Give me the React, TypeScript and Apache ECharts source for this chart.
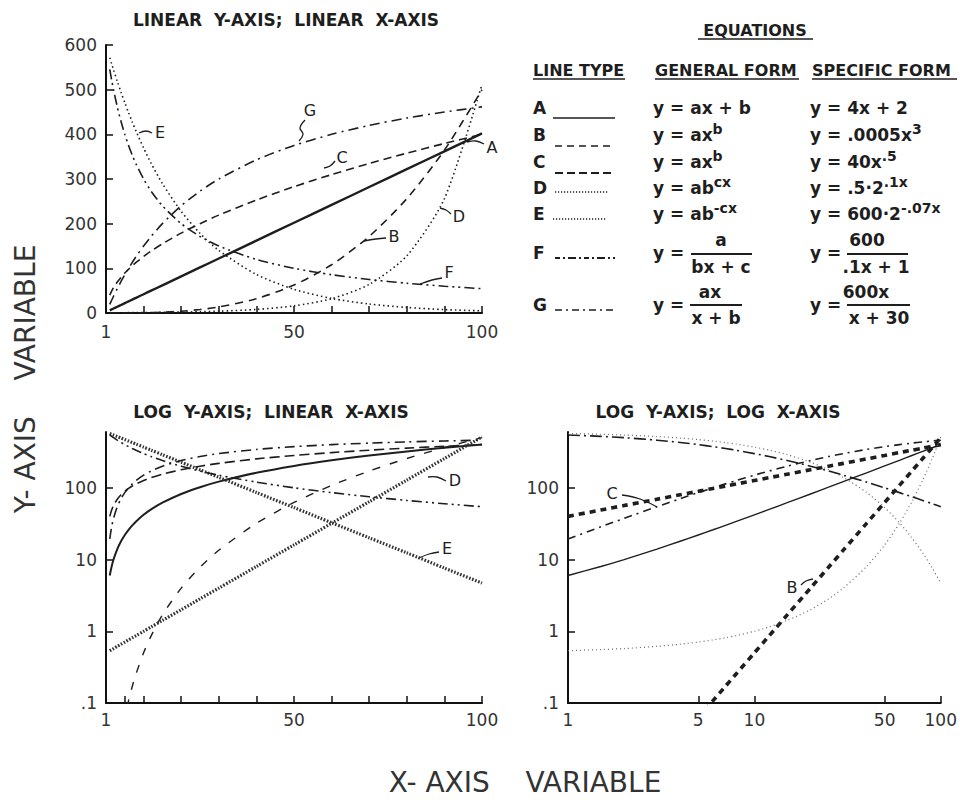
import React, { useEffect, useRef } from 'react';
import * as echarts from 'echarts';

// sample x positions
const X = [1, 1.5, 2, 3, 4, 5, 6, 7, 8, 10, 12, 15, 20, 25, 30, 40, 50, 60, 70, 80, 90, 100];
// curves
const A = [6, 8, 10, 14, 18, 22, 26, 30, 34, 42, 50, 62, 82, 102, 122, 162, 202, 242, 282, 322, 362, 402];
const B = [0.0005, 0.0017, 0.004, 0.0135, 0.032, 0.0625, 0.108, 0.1715, 0.256, 0.5, 0.864, 1.69, 4, 7.8, 13.5, 32, 62.5, 108, 171.5, 256, 364.5, 500];
const C = [40, 49, 56.6, 69.3, 80, 89.4, 98, 105.8, 113.1, 126.5, 138.6, 154.9, 178.9, 200, 219.1, 253, 282.8, 309.8, 334.7, 357.8, 379.5, 400];
const D = [0.536, 0.555, 0.574, 0.616, 0.66, 0.707, 0.758, 0.812, 0.871, 1, 1.149, 1.414, 2, 2.83, 4, 8, 16, 32, 64, 128, 256, 512];
const E = [571.6, 557.9, 544.5, 518.7, 494.2, 470.8, 448.5, 427.2, 407, 369.4, 335.2, 289.8, 227.4, 178.4, 140, 86.2, 53, 32.6, 20.1, 12.4, 7.6, 4.7];
const F = [545.5, 521.7, 500, 461.5, 428.6, 400, 375, 352.9, 333.3, 300, 272.7, 240, 200, 171.4, 150, 120, 100, 85.7, 75, 66.7, 60, 54.5];
const G = [19.4, 28.6, 37.5, 54.5, 70.6, 85.7, 100, 113.5, 126.3, 150, 171.4, 200, 240, 272.7, 300, 342.9, 375, 400, 420, 436.4, 450, 461.5];

// tick labels
const LIN_Y_TICKS = [0, 100, 200, 300, 400, 500, 600];
const LIN_X_LABELS = [0, 50, 100];
const LIN_X_TICKS_2 = [0, 5, 10, 20, 30, 40, 50, 60, 70, 80, 90, 100];
const LOG_Y_TICKS = [0.1, 1, 10, 100];
const LOG_X_TICKS = [1, 5, 10, 50, 100];

const FONT = '"DejaVu Sans", "Liberation Sans", sans-serif';
const INK = '#1e1e1e';

type LS = { width: number; type: any; color?: string };

const STYLES: LS[][] = [
  // top-left: A..G
  [
    { width: 2.4, type: 'solid' },
    { width: 1.6, type: [8, 6] },
    { width: 1.6, type: [8, 5] },
    { width: 1.6, type: [1.5, 3] },
    { width: 1.6, type: [1.5, 3] },
    { width: 1.6, type: [10, 4, 2, 4, 2, 4] },
    { width: 1.6, type: [10, 5, 2, 5] },
  ],
  // bottom-left
  [
    { width: 2, type: 'solid' },
    { width: 1.4, type: [8, 10] },
    { width: 1.6, type: [10, 5] },
    { width: 3.2, type: [1.6, 1.6], color: '#333' },
    { width: 3.2, type: [1.6, 1.6], color: '#333' },
    { width: 1.6, type: [10, 4, 2, 4, 2, 4] },
    { width: 1.6, type: [10, 5, 2, 5] },
  ],
  // bottom-right
  [
    { width: 1.4, type: 'solid' },
    { width: 3.6, type: [6, 5] },
    { width: 3.6, type: [6, 5] },
    { width: 1.2, type: [1, 3], color: '#666' },
    { width: 1.2, type: [1, 3], color: '#666' },
    { width: 1.6, type: [12, 4, 2, 4] },
    { width: 1.6, type: [8, 5, 2, 5] },
  ],
];

const NAMES = ['A', 'B', 'C', 'D', 'E', 'F', 'G'];
const CURVES = [A, B, C, D, E, F, G];

function txt(x: number, y: number, text: string, opts: any = {}) {
  return {
    type: 'text',
    x,
    y,
    silent: true,
    style: {
      text,
      font: opts.font || `bold 17px ${FONT}`,
      fill: opts.fill || INK,
      align: opts.align || 'left',
      verticalAlign: 'middle',
      rich: opts.rich,
    },
  };
}
function ln(x1: number, y1: number, x2: number, y2: number, w = 1.5, dash?: number[]) {
  return {
    type: 'line',
    silent: true,
    shape: { x1, y1, x2, y2 },
    style: { stroke: INK, lineWidth: w, lineDash: dash },
  };
}
function leader(points: number[][]) {
  return {
    type: 'polyline',
    silent: true,
    shape: { points, smooth: 0.4 },
    style: { stroke: INK, lineWidth: 1.3, fill: 'none' },
  };
}
const RICH = {
  n: { font: `bold 17px ${FONT}`, fill: INK, color: INK, lineHeight: 26 },
  s: { font: `bold 14px ${FONT}`, fill: INK, color: INK, lineHeight: 14, verticalAlign: 'top' },
};
function sup(x: number, y: number, base: string, s: string) {
  return txt(x, y, `{n|${base}}{s|${s}}`, { rich: RICH });
}

export default function App() {
  const ref = useRef<HTMLDivElement>(null);
  useEffect(() => {
    if (!ref.current) return;
    const chart = echarts.init(ref.current, undefined, { renderer: 'svg' });

    const axisLine = { show: true, lineStyle: { color: '#111', width: 2 } };
    const tick = { show: true, inside: true, length: 7, lineStyle: { color: '#111', width: 1.5 } };
    const label = { fontFamily: FONT, fontSize: 17, color: '#333' };
    const logFmt = (v: number) => (v < 0.5 ? '.1' : String(Math.round(v)));

    const series: any[] = [];
    for (let g = 0; g < 3; g++) {
      CURVES.forEach((c, i) => {
        const st = STYLES[g][i];
        series.push({
          type: 'line',
          name: NAMES[i] + g,
          xAxisIndex: g,
          yAxisIndex: g,
          data: X.map((x, k) => [x, c[k]]),
          showSymbol: false,
          symbol: 'none',
          smooth: 0.25,
          clip: true,
          silent: true,
          lineStyle: { color: st.color || INK, width: st.width, type: st.type },
        });
      });
    }

    const graphic: any[] = [
      // titles
      txt(286, 20, 'LINEAR  Y-AXIS;  LINEAR  X-AXIS', { align: 'center' }),
      txt(271, 412, 'LOG  Y-AXIS;  LINEAR  X-AXIS', { align: 'center' }),
      txt(718, 412, 'LOG  Y-AXIS;  LOG  X-AXIS', { align: 'center' }),
      // equation table
      txt(755, 30, 'EQUATIONS', { align: 'center', font: `bold 16px ${FONT}` }),
      ln(698, 39, 813, 39, 1.5),
      txt(533, 70, 'LINE TYPE', { font: `bold 16px ${FONT}` }),
      ln(533, 79, 625, 79, 1.5),
      txt(655, 70, 'GENERAL FORM', { font: `bold 16px ${FONT}` }),
      ln(655, 79, 799, 79, 1.5),
      txt(812, 70, 'SPECIFIC FORM', { font: `bold 16px ${FONT}` }),
      ln(812, 79, 957, 79, 1.5),
      // line type rows
      txt(533, 108, 'A'),
      ln(553, 118, 615, 118, 1.5),
      txt(533, 135, 'B'),
      ln(555, 146, 612, 146, 1.5, [7, 5]),
      txt(533, 162, 'C'),
      ln(555, 173, 612, 173, 1.8, [8, 4]),
      txt(533, 188, 'D'),
      ln(555, 192, 608, 192, 1.5, [1.2, 1.8]),
      txt(533, 214, 'E'),
      ln(553, 219, 606, 219, 1.5, [1.2, 1.8]),
      txt(533, 253, 'F'),
      ln(555, 258, 615, 258, 1.8, [5, 3, 2, 3, 8, 3, 2, 3]),
      txt(533, 305, 'G'),
      ln(555, 310, 615, 310, 1.5, [7, 4, 2, 4]),
      // general forms
      txt(653, 108, 'y = ax + b'),
      sup(653, 135, 'y = ax', 'b'),
      sup(653, 162, 'y = ax', 'b'),
      sup(653, 188, 'y = ab', 'cx'),
      sup(653, 214, 'y = ab', '-cx'),
      txt(653, 253, 'y ='),
      txt(721, 240, 'a', { align: 'center' }),
      ln(691, 254, 752, 254, 2),
      txt(721, 267, 'bx + c', { align: 'center' }),
      txt(653, 305, 'y ='),
      txt(710, 292, 'ax', { align: 'center' }),
      ln(690, 305, 742, 305, 2),
      txt(716, 318, 'x + b', { align: 'center' }),
      // specific forms
      txt(810, 108, 'y = 4x + 2'),
      sup(810, 135, 'y = .0005x', '3'),
      sup(810, 162, 'y = 40x', '.5'),
      sup(810, 188, 'y = .5·2', '.1x'),
      sup(810, 214, 'y = 600·2', '-.07x'),
      txt(810, 253, 'y ='),
      txt(867, 240, '600', { align: 'center' }),
      ln(847, 254, 908, 254, 2),
      txt(876, 267, '.1x + 1', { align: 'center' }),
      txt(810, 305, 'y ='),
      txt(866, 292, '600x', { align: 'center' }),
      ln(847, 305, 910, 305, 2),
      txt(879, 318, 'x + 30', { align: 'center' }),
      // curve annotations, top-left
      txt(310, 110, 'G', { font: `16px ${FONT}`, align: 'center' }),
      leader([[305, 120], [300, 128], [303, 134], [299, 141]]),
      txt(342, 157, 'C', { font: `16px ${FONT}`, align: 'center' }),
      leader([[335, 161], [330, 166], [324, 168]]),
      txt(160, 132, 'E', { font: `16px ${FONT}`, align: 'center' }),
      leader([[152, 133], [146, 131], [139, 133]]),
      txt(492, 147, 'A', { font: `16px ${FONT}`, align: 'center' }),
      leader([[484, 144], [476, 141], [467, 142]]),
      txt(394, 236, 'B', { font: `16px ${FONT}`, align: 'center' }),
      leader([[386, 238], [376, 239], [364, 241]]),
      txt(459, 216, 'D', { font: `16px ${FONT}`, align: 'center' }),
      leader([[451, 214], [446, 210], [440, 208]]),
      txt(449, 272, 'F', { font: `16px ${FONT}`, align: 'center' }),
      leader([[442, 278], [432, 280], [420, 284]]),
      // bottom-left
      txt(455, 480, 'D', { font: `16px ${FONT}`, align: 'center' }),
      leader([[446, 481], [437, 477], [428, 477]]),
      txt(447, 548, 'E', { font: `16px ${FONT}`, align: 'center' }),
      leader([[439, 552], [429, 554], [419, 558]]),
      // bottom-right
      txt(612, 493, 'C', { font: `16px ${FONT}`, align: 'center' }),
      leader([[622, 495], [640, 499], [657, 507]]),
      txt(792, 587, 'B', { font: `16px ${FONT}`, align: 'center' }),
      leader([[801, 585], [806, 581], [813, 579]]),
      // axis titles
      {
        type: 'text',
        x: 25,
        y: 379,
        rotation: Math.PI / 2,
        silent: true,
        style: {
          text: 'Y- AXIS    VARIABLE',
          font: `28px ${FONT}`,
          fill: '#333',
          align: 'center',
          verticalAlign: 'middle',
        },
      },
      {
        type: 'text',
        x: 525,
        y: 782,
        silent: true,
        style: {
          text: 'X- AXIS    VARIABLE',
          font: `28px ${FONT}`,
          fill: '#333',
          align: 'center',
          verticalAlign: 'middle',
        },
      },
    ];

    chart.setOption({
      animation: false,
      backgroundColor: '#fff',
      grid: [
        { left: 106, top: 45, width: 376, height: 268 },
        { left: 106, top: 432, width: 376, height: 271 },
        { left: 568, top: 432, width: 374, height: 271 },
      ],
      xAxis: [
        {
          type: 'value', gridIndex: 0, min: 0, max: 100, interval: 10,
          axisLine, axisTick: tick, splitLine: { show: false },
          axisLabel: { ...label, margin: 10, customValues: LIN_X_LABELS, formatter: (v: number) => (v === 0 ? '1' : String(v)) },
        },
        {
          type: 'value', gridIndex: 1, min: 0, max: 100, interval: 10,
          axisLine, axisTick: { ...tick, customValues: LIN_X_TICKS_2 }, splitLine: { show: false },
          axisLabel: { ...label, margin: 8, customValues: LIN_X_LABELS, formatter: (v: number) => (v === 0 ? '1' : String(v)) },
        },
        {
          type: 'log', gridIndex: 2, min: 1, max: 100, logBase: 10,
          axisLine, axisTick: { ...tick, customValues: LOG_X_TICKS }, splitLine: { show: false }, minorTick: { show: false },
          axisLabel: { ...label, margin: 8, customValues: LOG_X_TICKS, formatter: (v: number) => String(Math.round(v)) },
        },
      ],
      yAxis: [
        {
          type: 'value', gridIndex: 0, min: 0, max: 600, interval: 100,
          axisLine, axisTick: { ...tick, customValues: LIN_Y_TICKS }, splitLine: { show: false },
          axisLabel: { ...label, margin: 9, customValues: LIN_Y_TICKS },
        },
        {
          type: 'log', gridIndex: 1, min: 0.1, max: 600, logBase: 10,
          axisLine, axisTick: { ...tick, customValues: LOG_Y_TICKS }, splitLine: { show: false },
          axisLabel: { ...label, margin: 9, customValues: LOG_Y_TICKS, formatter: logFmt },
        },
        {
          type: 'log', gridIndex: 2, min: 0.1, max: 600, logBase: 10,
          axisLine, axisTick: { ...tick, customValues: LOG_Y_TICKS }, splitLine: { show: false },
          axisLabel: { ...label, margin: 9, customValues: LOG_Y_TICKS, formatter: logFmt },
        },
      ],
      series,
      graphic,
    });
    return () => chart.dispose();
  }, []);
  return <div ref={ref} style={{ position: 'absolute', left: 0, top: 0, width: 960, height: 800 }} />;
}
